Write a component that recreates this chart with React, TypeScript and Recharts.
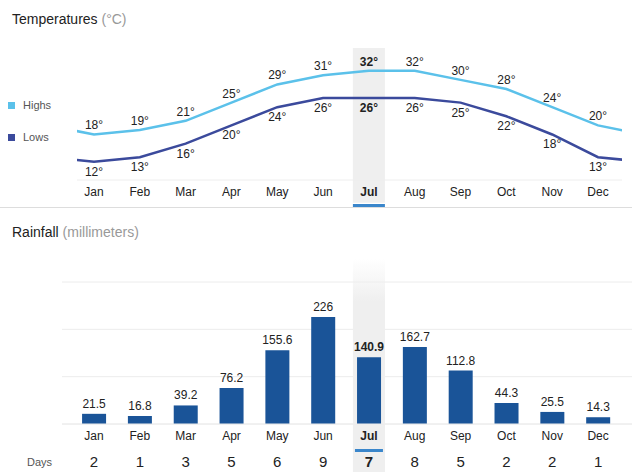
import {
  LineChart,
  Line,
  BarChart,
  Bar,
  XAxis,
  YAxis,
  CartesianGrid,
  ReferenceArea,
  Label,
} from "recharts";

const months = ["Jan", "Feb", "Mar", "Apr", "May", "Jun", "Jul", "Aug", "Sep", "Oct", "Nov", "Dec"];
const highs = [18, 19, 21, 25, 29, 31, 32, 32, 30, 28, 24, 20];
const lows = [12, 13, 16, 20, 24, 26, 26, 26, 25, 22, 18, 13];
const rainfall = [21.5, 16.8, 39.2, 76.2, 155.6, 226, 140.9, 162.7, 112.8, 44.3, 25.5, 14.3];
const rainDays = [2, 1, 3, 5, 6, 9, 7, 8, 5, 2, 2, 1];
const monthIdx = [0, 1, 2, 3, 4, 5, 6, 7, 8, 9, 10, 11];
const current = 6; // Jul is highlighted

const HIGH_COLOR = "#5bc1ea";
const LOW_COLOR = "#3b4a9c";
const BAR_COLOR = "#1a5498";
const BAND = "#efefef";
const ACCENT = "#3a86cb";

// the year wraps: last Dec before Jan, next Jan after Dec, so lines run off both edges
const tempData = [
  { i: -1, high: highs[11], low: lows[11] },
  ...months.map((m, i) => ({ i, month: m, high: highs[i], low: lows[i] })),
  { i: 12, high: highs[0], low: lows[0] },
];

const rainData = months.map((m, i) => ({ i, month: m, rain: rainfall[i], days: rainDays[i] }));

const MonthTick = (props: any) => {
  const { x, y, payload, lineY, lineW } = props;
  const hot = payload.value === current;
  return (
    <g>
      <text x={x} y={y} dy="0.71em" textAnchor="middle" fontSize={12} fill="#222" fontWeight={hot ? 700 : 400}>
        {months[payload.value]}
      </text>
      {hot ? <rect x={x - lineW / 2} y={y + lineY} width={lineW} height={3} fill={ACCENT} /> : null}
    </g>
  );
};

const DayTick = (props: any) => {
  const { x, y, payload } = props;
  const hot = payload.value === current;
  return (
    <text x={x} y={y} dy="0.71em" textAnchor="middle" fontSize={15} fill="#222" fontWeight={hot ? 700 : 400}>
      {rainDays[payload.value]}
    </text>
  );
};

const tempLabel = (key: "high" | "low", dy: number) => (props: any) => {
  const { x, y, index } = props;
  const row: any = tempData[index];
  if (!row || !row.month) return null;
  return (
    <text x={x} y={y + dy} textAnchor="middle" fontSize={12} fill="#222" fontWeight={row.i === current ? 700 : 400}>
      {row[key]}°
    </text>
  );
};

const rainLabel = (props: any) => {
  const { x, y, width, value, index } = props;
  return (
    <text x={x + width / 2} y={y - 6} textAnchor="middle" fontSize={12} fill="#222" fontWeight={index === current ? 700 : 400}>
      {value}
    </text>
  );
};

const legendItem = (color: string, text: string, top: number) => (
  <div style={{ position: "absolute", left: 8, top, display: "flex", alignItems: "center", fontSize: 11, color: "#555" }}>
    <span style={{ width: 7, height: 7, background: color, display: "inline-block", marginRight: 8 }} />
    {text}
  </div>
);

export default function App() {
  return (
    <div
      style={{
        position: "absolute",
        left: 0,
        top: 0,
        width: 632,
        height: 472,
        background: "#fff",
        fontFamily: "Arial, 'Liberation Sans', sans-serif",
        overflow: "hidden",
      }}
    >
      <div style={{ position: "absolute", left: 12, top: 11, fontSize: 14, color: "#222" }}>
        Temperatures <span style={{ color: "#999" }}>(°C)</span>
      </div>
      {legendItem(HIGH_COLOR, "Highs", 99)}
      {legendItem(LOW_COLOR, "Lows", 131)}

      <div style={{ position: "absolute", left: 0, top: 0 }}>
        <LineChart width={632} height={208} data={tempData} margin={{ top: 48, right: 10, bottom: 0, left: 77 }}>
          <ReferenceArea x1={5.65} x2={6.35} y1={3} y2={37} fill={BAND} fillOpacity={1} stroke="none" ifOverflow="visible" />
          <XAxis
            dataKey="i"
            type="number"
            domain={[-0.371, 11.524]}
            allowDataOverflow
            ticks={monthIdx}
            interval={0}
            tickLine={false}
            tickSize={0}
            tickMargin={7}
            height={28}
            axisLine={{ stroke: "#eee" }}
            tick={<MonthTick lineY={17} lineW={32} />}
          />
          <YAxis hide domain={[8, 37]} allowDataOverflow />
          <Line
            dataKey="high"
            type="linear"
            stroke={HIGH_COLOR}
            strokeWidth={2.5}
            dot={false}
            isAnimationActive={false}
            label={tempLabel("high", -5)}
          />
          <Line
            dataKey="low"
            type="linear"
            stroke={LOW_COLOR}
            strokeWidth={2.5}
            dot={false}
            isAnimationActive={false}
            label={tempLabel("low", 14)}
          />
        </LineChart>
      </div>

      <div style={{ position: "absolute", left: 0, top: 207, width: 632, height: 1, background: "#ddd" }} />

      <div style={{ position: "absolute", left: 12, top: 224, fontSize: 14, color: "#222" }}>
        Rainfall <span style={{ color: "#999" }}>(millimeters)</span>
      </div>

      <div style={{ position: "absolute", left: 0, top: 208 }}>
        <BarChart width={632} height={264} data={rainData} margin={{ top: 74, right: 0, bottom: 0, left: 62 }}>
          <defs>
            <linearGradient id="julFade" x1="0" y1="0" x2="0" y2="1">
              <stop offset="0" stopColor={BAND} stopOpacity={0} />
              <stop offset="0.2" stopColor={BAND} stopOpacity={1} />
              <stop offset="1" stopColor={BAND} stopOpacity={1} />
            </linearGradient>
          </defs>
          <CartesianGrid vertical={false} stroke="#ececec" />
          <ReferenceArea x1={5.65} x2={6.35} y1={-102} y2={350} fill="url(#julFade)" fillOpacity={1} stroke="none" ifOverflow="visible" />
          <XAxis
            dataKey="i"
            type="number"
            domain={[-0.698, 11.74]}
            allowDataOverflow
            ticks={monthIdx}
            interval={0}
            tickLine={false}
            tickSize={0}
            tickMargin={7}
            height={28}
            axisLine={{ stroke: "#ececec" }}
            tick={<MonthTick lineY={18} lineW={28} />}
          />
          <XAxis
            xAxisId="days"
            dataKey="i"
            type="number"
            domain={[-0.698, 11.74]}
            allowDataOverflow
            ticks={monthIdx}
            interval={0}
            tickLine={false}
            tickSize={0}
            tickMargin={4}
            height={20}
            axisLine={false}
            tick={<DayTick />}
          >
            <Label value="Days" position="left" offset={10} fontSize={11} fill="#555" />
          </XAxis>
          <YAxis hide domain={[0, 300]} ticks={[0, 100, 200, 300]} />
          <Bar dataKey="rain" fill={BAR_COLOR} barSize={24} isAnimationActive={false} label={rainLabel} />
        </BarChart>
      </div>
    </div>
  );
}
